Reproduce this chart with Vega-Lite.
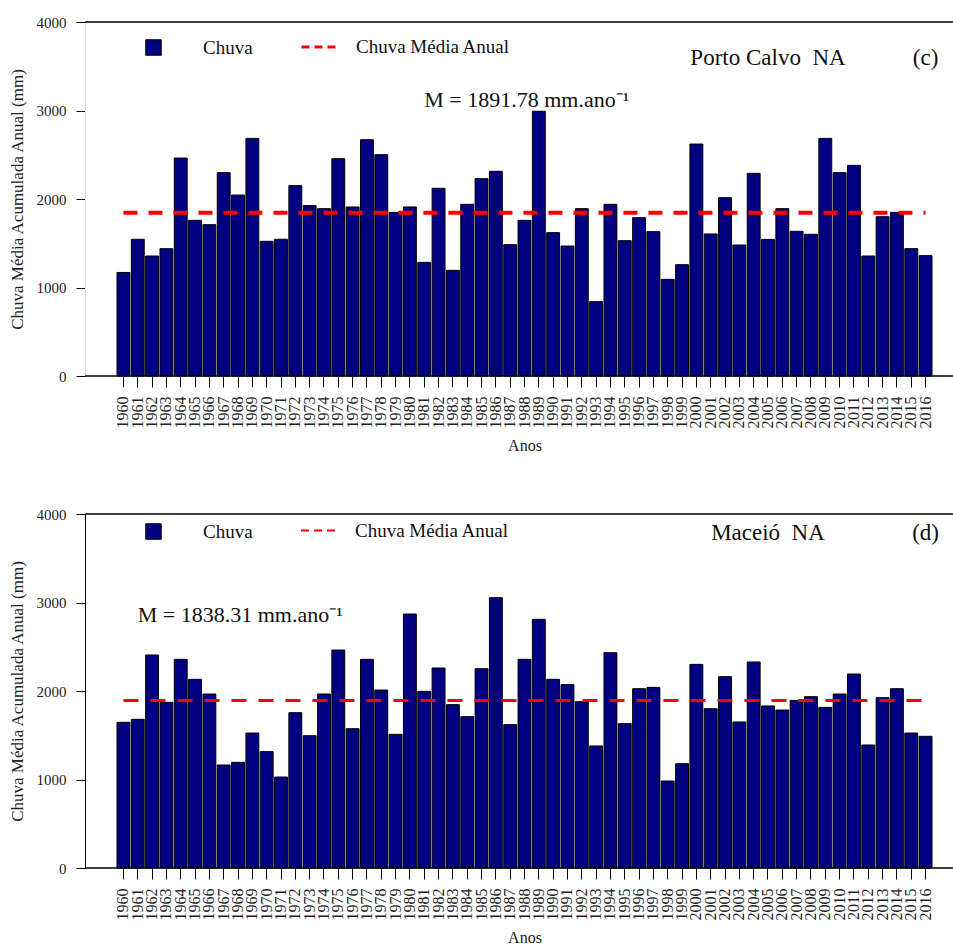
{
  "$schema": "https://vega.github.io/schema/vega-lite/v6.json",
  "padding": {"left": 8, "top": 15, "right": 0, "bottom": 0},
  "background": "white",
  "spacing": 53,
  "config": {
    "font": "Liberation Serif",
    "view": {"stroke": null},
    "axis": {"labelFont": "Liberation Serif", "titleFont": "Liberation Serif", "grid": false, "domainColor": "#000", "tickColor": "#000", "labelColor": "#222", "titleColor": "#222", "titleFontWeight": "normal", "tickWidth": 1, "domainWidth": 1},
    "legend": {"padding": 0, "labelFont": "Liberation Serif", "labelColor": "#111", "labelFontSize": 19}
  },
  "resolve": {"scale": {"fill": "independent", "stroke": "independent"}, "legend": {"fill": "independent", "stroke": "independent"}},
  "datasets": {
    "chuva": [
      {"Ano": 1960, "PortoCalvo": 1170, "Maceio": 1646},
      {"Ano": 1961, "PortoCalvo": 1545, "Maceio": 1680},
      {"Ano": 1962, "PortoCalvo": 1356, "Maceio": 2407},
      {"Ano": 1963, "PortoCalvo": 1439, "Maceio": 1872},
      {"Ano": 1964, "PortoCalvo": 2463, "Maceio": 2358},
      {"Ano": 1965, "PortoCalvo": 1759, "Maceio": 2132},
      {"Ano": 1966, "PortoCalvo": 1710, "Maceio": 1966},
      {"Ano": 1967, "PortoCalvo": 2298, "Maceio": 1164},
      {"Ano": 1968, "PortoCalvo": 2045, "Maceio": 1194},
      {"Ano": 1969, "PortoCalvo": 2685, "Maceio": 1525},
      {"Ano": 1970, "PortoCalvo": 1522, "Maceio": 1315},
      {"Ano": 1971, "PortoCalvo": 1545, "Maceio": 1028},
      {"Ano": 1972, "PortoCalvo": 2151, "Maceio": 1755},
      {"Ano": 1973, "PortoCalvo": 1925, "Maceio": 1495},
      {"Ano": 1974, "PortoCalvo": 1891, "Maceio": 1966},
      {"Ano": 1975, "PortoCalvo": 2456, "Maceio": 2463},
      {"Ano": 1976, "PortoCalvo": 1910, "Maceio": 1574},
      {"Ano": 1977, "PortoCalvo": 2670, "Maceio": 2358},
      {"Ano": 1978, "PortoCalvo": 2501, "Maceio": 2011},
      {"Ano": 1979, "PortoCalvo": 1849, "Maceio": 1510},
      {"Ano": 1980, "PortoCalvo": 1910, "Maceio": 2870},
      {"Ano": 1981, "PortoCalvo": 1284, "Maceio": 1996},
      {"Ano": 1982, "PortoCalvo": 2121, "Maceio": 2260},
      {"Ano": 1983, "PortoCalvo": 1194, "Maceio": 1846},
      {"Ano": 1984, "PortoCalvo": 1940, "Maceio": 1710},
      {"Ano": 1985, "PortoCalvo": 2230, "Maceio": 2252},
      {"Ano": 1986, "PortoCalvo": 2313, "Maceio": 3055},
      {"Ano": 1987, "PortoCalvo": 1484, "Maceio": 1620},
      {"Ano": 1988, "PortoCalvo": 1759, "Maceio": 2358},
      {"Ano": 1989, "PortoCalvo": 2991, "Maceio": 2810},
      {"Ano": 1990, "PortoCalvo": 1620, "Maceio": 2132},
      {"Ano": 1991, "PortoCalvo": 1469, "Maceio": 2072},
      {"Ano": 1992, "PortoCalvo": 1891, "Maceio": 1879},
      {"Ano": 1993, "PortoCalvo": 840, "Maceio": 1379},
      {"Ano": 1994, "PortoCalvo": 1940, "Maceio": 2433},
      {"Ano": 1995, "PortoCalvo": 1529, "Maceio": 1631},
      {"Ano": 1996, "PortoCalvo": 1789, "Maceio": 2026},
      {"Ano": 1997, "PortoCalvo": 1631, "Maceio": 2041},
      {"Ano": 1998, "PortoCalvo": 1092, "Maceio": 983},
      {"Ano": 1999, "PortoCalvo": 1258, "Maceio": 1179},
      {"Ano": 2000, "PortoCalvo": 2621, "Maceio": 2301},
      {"Ano": 2001, "PortoCalvo": 1605, "Maceio": 1800},
      {"Ano": 2002, "PortoCalvo": 2015, "Maceio": 2162},
      {"Ano": 2003, "PortoCalvo": 1480, "Maceio": 1650},
      {"Ano": 2004, "PortoCalvo": 2290, "Maceio": 2328},
      {"Ano": 2005, "PortoCalvo": 1544, "Maceio": 1831},
      {"Ano": 2006, "PortoCalvo": 1891, "Maceio": 1785},
      {"Ano": 2007, "PortoCalvo": 1635, "Maceio": 1894},
      {"Ano": 2008, "PortoCalvo": 1601, "Maceio": 1936},
      {"Ano": 2009, "PortoCalvo": 2685, "Maceio": 1815},
      {"Ano": 2010, "PortoCalvo": 2298, "Maceio": 1966},
      {"Ano": 2011, "PortoCalvo": 2380, "Maceio": 2192},
      {"Ano": 2012, "PortoCalvo": 1356, "Maceio": 1390},
      {"Ano": 2013, "PortoCalvo": 1800, "Maceio": 1925},
      {"Ano": 2014, "PortoCalvo": 1849, "Maceio": 2026},
      {"Ano": 2015, "PortoCalvo": 1439, "Maceio": 1525},
      {"Ano": 2016, "PortoCalvo": 1360, "Maceio": 1488}
    ]
  },
  "vconcat": [
    {
      "width": 868,
      "height": 354,
      "layer": [
        {
          "data": {"name": "chuva"},
          "mark": {"type": "bar", "stroke": "#000", "strokeWidth": 1},
          "encoding": {
            "x": {"field": "Ano", "type": "ordinal", "title": "Anos",
              "scale": {"paddingInner": 0.1, "paddingOuter": 0, "range": [32, 847]},
              "axis": {"labelAngle": 270, "labelFontSize": 16, "labelPadding": 9, "tickSize": 11, "labelOverlap": false, "titleFontSize": 16, "titlePadding": 9, "domain": false}},
            "y": {"field": "PortoCalvo", "type": "quantitative", "title": "Chuva Média Acumulada Anual (mm)",
              "scale": {"domain": [0, 4000], "nice": false},
              "axis": {"values": [0, 1000, 2000, 3000, 4000], "format": "d", "tickSize": 9, "labelFontSize": 15, "labelPadding": 10, "titleFontSize": 17, "titlePadding": 10, "domainColor": "#dddddd"}},
            "fill": {"datum": "Chuva", "scale": {"range": ["#000080"]},
              "legend": {"orient": "none", "legendX": 59, "legendY": 16, "title": null, "symbolType": "square", "symbolSize": 240, "symbolStrokeColor": "#000", "symbolStrokeWidth": 1, "labelOffset": 40}}
          }
        },
        {
          "data": {"values": [{}]},
          "mark": {"type": "rule", "strokeDash": [14, 11], "strokeWidth": 4},
          "encoding": {
            "x": {"datum": 1960, "type": "ordinal"},
            "x2": {"datum": 2016},
            "y": {"datum": 1845, "type": "quantitative"},
            "stroke": {"datum": "Chuva Média Anual", "scale": {"range": ["#ff0000"]},
              "legend": {"orient": "none", "legendX": 215, "legendY": 5, "title": null, "symbolType": "stroke", "symbolSize": 1369, "symbolStrokeWidth": 3, "symbolDash": [8, 5], "labelOffset": 16}}
          }
        },
        {
          "data": {"values": [{}]},
          "mark": {"type": "rule", "stroke": "#000", "strokeWidth": 1.5},
          "encoding": {"y": {"datum": 4000, "type": "quantitative"}}
        },
        {
          "data": {"values": [{}]},
          "mark": {"type": "rule", "stroke": "#000", "strokeWidth": 1.5},
          "encoding": {"y": {"datum": 0, "type": "quantitative"}}
        },
        {
          "data": {"values": [{}]},
          "mark": {"type": "text", "fontSize": 23, "font": "Liberation Serif", "color": "#111"},
          "encoding": {"x": {"datum": 2005, "type": "ordinal"}, "y": {"datum": 3593, "type": "quantitative"}, "text": {"value": "Porto Calvo\u00a0 NA"}}
        },
        {
          "data": {"values": [{}]},
          "mark": {"type": "text", "fontSize": 23, "font": "Liberation Serif", "color": "#111"},
          "encoding": {"x": {"datum": 2016, "type": "ordinal"}, "y": {"datum": 3593, "type": "quantitative"}, "text": {"value": "(c)"}}
        },
        {
          "data": {"values": [{}]},
          "mark": {"type": "text", "fontSize": 22, "font": "Liberation Serif", "color": "#111", "align": "left"},
          "encoding": {"x": {"datum": 1981, "type": "ordinal"}, "y": {"datum": 3119, "type": "quantitative"}, "text": {"value": "M = 1891.78 mm.ano⁻¹"}}
        }
      ]
    },
    {
      "width": 868,
      "height": 354,
      "layer": [
        {
          "data": {"name": "chuva"},
          "mark": {"type": "bar", "stroke": "#000", "strokeWidth": 1},
          "encoding": {
            "x": {"field": "Ano", "type": "ordinal", "title": "Anos",
              "scale": {"paddingInner": 0.1, "paddingOuter": 0, "range": [32, 847]},
              "axis": {"labelAngle": 270, "labelFontSize": 16, "labelPadding": 9, "tickSize": 11, "labelOverlap": false, "titleFontSize": 16, "titlePadding": 9, "domain": false}},
            "y": {"field": "Maceio", "type": "quantitative", "title": "Chuva Média Acumulada Anual (mm)",
              "scale": {"domain": [0, 4000], "nice": false},
              "axis": {"values": [0, 1000, 2000, 3000, 4000], "format": "d", "tickSize": 9, "labelFontSize": 15, "labelPadding": 10, "titleFontSize": 17, "titlePadding": 10, "domainColor": "#000"}},
            "fill": {"datum": "Chuva", "scale": {"range": ["#000080"]},
              "legend": {"orient": "none", "legendX": 59, "legendY": 8, "title": null, "symbolType": "square", "symbolSize": 240, "symbolStrokeColor": "#000", "symbolStrokeWidth": 1, "labelOffset": 40}}
          }
        },
        {
          "data": {"values": [{}]},
          "mark": {"type": "rule", "strokeDash": [15, 12], "strokeWidth": 3},
          "encoding": {
            "x": {"datum": 1960, "type": "ordinal"},
            "x2": {"datum": 2016},
            "y": {"datum": 1892, "type": "quantitative"},
            "stroke": {"datum": "Chuva Média Anual", "scale": {"range": ["#ff0000"]},
              "legend": {"orient": "none", "legendX": 215, "legendY": -3, "title": null, "symbolType": "stroke", "symbolSize": 1369, "symbolStrokeWidth": 2, "symbolDash": [8, 5], "labelOffset": 16}}
          }
        },
        {
          "data": {"values": [{}]},
          "mark": {"type": "rule", "stroke": "#000", "strokeWidth": 1.5},
          "encoding": {"y": {"datum": 4000, "type": "quantitative"}}
        },
        {
          "data": {"values": [{}]},
          "mark": {"type": "rule", "stroke": "#000", "strokeWidth": 1.5},
          "encoding": {"y": {"datum": 0, "type": "quantitative"}}
        },
        {
          "data": {"values": [{}]},
          "mark": {"type": "text", "fontSize": 23, "font": "Liberation Serif", "color": "#111"},
          "encoding": {"x": {"datum": 2005, "type": "ordinal"}, "y": {"datum": 3789, "type": "quantitative"}, "text": {"value": "Maceió\u00a0 NA"}}
        },
        {
          "data": {"values": [{}]},
          "mark": {"type": "text", "fontSize": 23, "font": "Liberation Serif", "color": "#111"},
          "encoding": {"x": {"datum": 2016, "type": "ordinal"}, "y": {"datum": 3789, "type": "quantitative"}, "text": {"value": "(d)"}}
        },
        {
          "data": {"values": [{}]},
          "mark": {"type": "text", "fontSize": 22, "font": "Liberation Serif", "color": "#111", "align": "left"},
          "encoding": {"x": {"datum": 1961, "type": "ordinal"}, "y": {"datum": 2862, "type": "quantitative"}, "text": {"value": "M = 1838.31 mm.ano⁻¹"}}
        }
      ]
    }
  ]
}
